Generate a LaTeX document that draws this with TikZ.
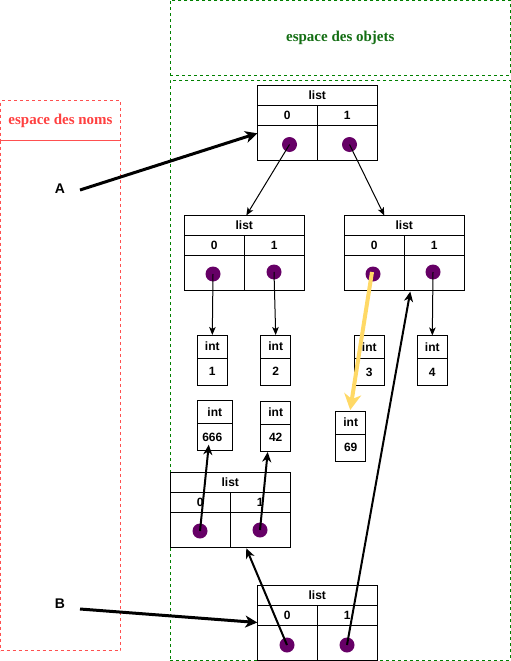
\documentclass[tikz,border=0pt]{standalone}
\usepackage{fontspec}
\setmainfont{Liberation Serif}
\setsansfont{Liberation Sans}
\usetikzlibrary{arrows.meta,calc}
\definecolor{objgreen}{RGB}{0,128,0}
\definecolor{objtext}{RGB}{20,110,20}
\definecolor{nomred}{RGB}{255,80,80}
\definecolor{nomtext}{RGB}{255,64,64}
\definecolor{dotpurple}{RGB}{102,0,102}
\definecolor{ptryellow}{RGB}{255,217,102}
\tikzset{
  cell/.style={draw=black, line width=1pt, inner sep=0pt, outer sep=0pt,
    font=\sffamily\bfseries\fontsize{12}{14}\selectfont},
  dotnode/.style={circle, fill=dotpurple, minimum size=15pt, inner sep=0pt},
  zone/.style={line width=1pt, dash pattern=on 3pt off 3pt, inner sep=0pt, outer sep=0pt},
  thinarrow/.style={line width=1pt, -{Stealth[length=8pt,width=6.5pt,inset=2pt]}},
  medarrow/.style={line width=2pt, -{Stealth[length=10pt,width=9pt,inset=3pt]}},
  thickarrow/.style={line width=3pt, -{Stealth[length=12pt,width=12pt,inset=3.5pt]}},
  yelarrow/.style={line width=4pt, draw=ptryellow, -{Stealth[length=16pt,width=17pt,inset=5pt]}},
  varlabel/.style={font=\sffamily\bfseries\fontsize{14}{16}\selectfont, inner sep=0pt}
}
\newcommand\listobj[7]{%
  \node[cell, minimum width=120pt, minimum height=20pt] (#1-h) at (#2+60,#3+10) {list};
  \node[cell, minimum width=60pt, minimum height=20pt] (#1-i0) at (#2+30,#3+30) {0};
  \node[cell, minimum width=60pt, minimum height=20pt] (#1-i1) at (#2+90,#3+30) {1};
  \node[cell, minimum width=60pt, minimum height=35pt] (#1-v0) at (#2+30,#3+57.5) {};
  \node[cell, minimum width=60pt, minimum height=35pt] (#1-v1) at (#2+90,#3+57.5) {};
  \node[dotnode] (#1-d0) at (#4,#5) {};
  \node[dotnode] (#1-d1) at (#6,#7) {};
}
\newcommand\intobj[5]{%
  \node[cell, minimum width=#4pt, minimum height=23pt] (#1-h) at (#2+#4/2,#3+11.5) {int};
  \node[cell, minimum width=#4pt, minimum height=27pt] (#1-v) at (#2+#4/2,#3+36.5) {#5};
}
\begin{document}
\begin{tikzpicture}[x=1pt,y=-1pt]
\useasboundingbox (0,0) rectangle (511,661);
% zones
\node[zone, draw=objgreen, minimum width=340pt, minimum height=75pt,
      text=objtext, font=\rmfamily\bfseries\fontsize{15}{18}\selectfont]
      (objhead) at (340.3,37.8) {espace des objets};
\node[zone, draw=objgreen, minimum width=340pt, minimum height=580pt] (objarea) at (340.3,370) {};
\node[zone, draw=nomred, minimum width=120pt, minimum height=40pt,
      text=nomtext, font=\rmfamily\bfseries\fontsize{15}{18}\selectfont]
      (nomhead) at (60.5,120.5) {espace des noms};
\node[zone, draw=nomred, minimum width=120pt, minimum height=510pt] (nomarea) at (60.5,395.5) {};
% variable names
\node[varlabel] (A) at (60,189) {A};
\node[varlabel] (B) at (60,604) {B};
\coordinate (Astart) at (80,190);
\coordinate (Bstart) at (80,609);
% lists
\listobj{t}{257.3}{85.3}{289.5}{144.5}{349.5}{144.5}
\listobj{ml}{184.3}{215.5}{213}{274}{274}{272}
\listobj{mr}{344.3}{215.5}{373}{274}{433}{272}
\listobj{bl}{170.3}{472.3}{200}{531}{260}{530}
\listobj{b}{257.3}{585.5}{287}{645}{347}{645}
% ints
\intobj{i1}{197.3}{335}{30}{1}
\intobj{i2}{260.7}{335}{30}{2}
\intobj{i3}{354.3}{335.5}{30}{3}
\intobj{i4}{417.3}{335.5}{30}{4}
\intobj{i666}{197.3}{400.7}{35}{\kern-5pt 666}
\intobj{i42}{260.7}{401}{30}{42}
\intobj{i69}{335.7}{411}{30}{69}
% references
\draw[thickarrow] (Astart) -- ($(t-v0.north west)+(0,8)$);
\draw[thickarrow] (Bstart) -- ($(b-i0.south west)+(0,-3)$);
\draw[thinarrow] (t-d0.center) -- ($(ml-h.north)+(2,0)$);
\draw[thinarrow] (t-d1.center) -- ($(mr-h.north west)+(40,0)$);
\draw[thinarrow] (ml-d0.center) -- (i1-h.north);
\draw[thinarrow] (ml-d1.center) -- (i2-h.north);
\draw[thinarrow] (mr-d1.center) -- (i4-h.north);
\draw[yelarrow] ($(mr-d0.center)+(-1,-2)$) -- ($(i69-h.north)+(-0.5,-1)$);
\draw[medarrow] (bl-d0.center) -- ($(i666-v.south)+(-6,-6)$);
\draw[medarrow] (bl-d1.center) -- ($(i42-v.south)+(-8,1)$);
\draw[medarrow] (b-d0.center) -- ($(bl-v1.south west)+(16,1)$);
\draw[medarrow] (b-d1.center) -- ($(mr-v1.south west)+(6,1)$);
\end{tikzpicture}
\end{document}
